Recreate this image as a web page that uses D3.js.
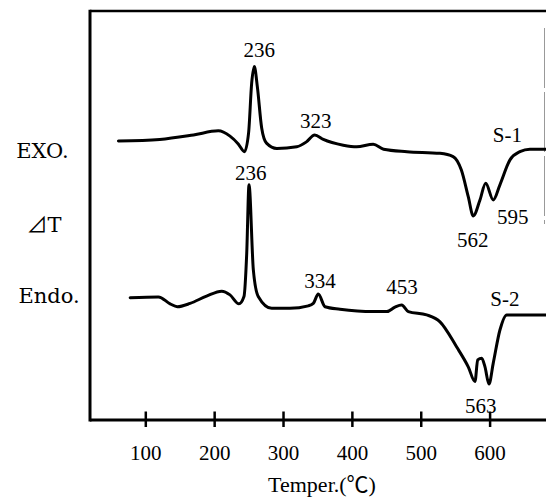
<!DOCTYPE html>
<html>
<head>
<meta charset="utf-8">
<script src="https://cdn.jsdelivr.net/npm/d3@7"></script>
<style>
  html, body { margin: 0; padding: 0; background: #fff; }
  svg { display: block; }
</style>
</head>
<body>
<svg id="chart" width="546" height="499"></svg>
<script>
// ---- data (temperature in °C as read on the axis, ΔT in arbitrary units 0..100) ----
const s1Temp = [61, 121, 170, 206, 223, 235, 244, 250, 254.5, 258.3, 262.7, 269, 276, 291, 320, 334, 346, 358.5, 387.5, 407, 431, 446, 480, 528, 547, 559, 569, 576.3, 586, 594.3, 605.3, 615, 629.6, 644, 658.6, 682];
const s1Val  = [68.2, 68.6, 69.7, 70.7, 69.4, 67.5, 65.6, 70.2, 82.4, 86.4, 81.5, 71.4, 67.7, 66.4, 66.8, 68.0, 69.7, 68.6, 67.2, 66.8, 67.4, 66.2, 65.6, 65.2, 64.4, 61.1, 54.6, 49.9, 53.8, 57.9, 53.8, 57.5, 63.6, 65.6, 66.2, 66.2];

const s2Temp = [78, 119, 136, 146.5, 165, 189, 211, 223, 236, 243.3, 247.3, 250.6, 256.9, 264, 283.6, 310, 336.7, 344, 351.2, 361, 382.7, 431, 450.6, 462.6, 472.3, 482, 508.6, 528, 552, 569, 578.8, 582.7, 588.5, 593.3, 599.1, 605.3, 615, 624.8, 649, 682];
const s2Val  = [29.9, 30.1, 28.4, 27.7, 28.5, 30.3, 31.5, 30.6, 28.4, 30.2, 40.8, 57.5, 36.7, 30.2, 27.3, 27.3, 27.9, 28.5, 30.8, 27.7, 27.1, 26.5, 26.5, 27.6, 28.1, 26.5, 25.7, 24.0, 17.9, 13.0, 9.4, 14.7, 15.1, 13.0, 8.8, 13.9, 22.0, 25.7, 25.7, 25.7];

const xTicks = [100, 200, 300, 400, 500, 600];

// peak annotations (text, temperature, ΔT)
const annText = ["236", "323", "S-1", "562", "595", "236", "334", "453", "S-2", "563"];
const annTemp = [265.6, 347.5, 625.7, 575.4, 633.5, 253.1, 353.7, 472.8, 622.3, 587];
const annVal  = [90.5, 73.3, 69.7, 44.0, 49.6, 60.5, 34.0, 32.6, 29.6, 3.4];

const sideLabels = ["EXO.", "\u22BFT", "Endo."];
const xTitle = "Temper.(\u2103)";

// ---- drawing ----
const svg = d3.select("#chart");
const W = 546, H = 499;
const mLeft = 90, mTop = 11, mBottom = 420;

const x = d3.scaleLinear().domain([100, 600]).range([145.3, 489.6]);
const y = d3.scaleLinear().domain([0, 100]).range([mBottom, mTop]);

const numFont = "'Liberation Serif', 'Noto Sans CJK JP', serif";

// frame
svg.append("line").attr("x1", mLeft).attr("x2", W).attr("y1", mTop).attr("y2", mTop)
  .attr("stroke", "#000").attr("stroke-width", 2.5);
svg.append("line").attr("x1", mLeft).attr("x2", mLeft).attr("y1", mTop - 1.2).attr("y2", mBottom + 1.5)
  .attr("stroke", "#000").attr("stroke-width", 3);
svg.append("line").attr("x1", 544.5).attr("x2", 544.5).attr("y1", 28).attr("y2", 224)
  .attr("stroke", "#999").attr("stroke-width", 1).attr("stroke-dasharray", "60,4");

// x axis
const xAxis = d3.axisBottom(x).tickValues(xTicks).tickSize(0).tickPadding(0);
const gx = svg.append("g").attr("transform", `translate(0,${mBottom})`).call(xAxis);
gx.select(".domain").remove();
gx.append("line").attr("x1", mLeft).attr("x2", W).attr("y1", 0).attr("y2", 0)
  .attr("stroke", "#000").attr("stroke-width", 3);
gx.selectAll(".tick line").remove();
gx.selectAll(".tick").append("line").attr("y1", -8.5).attr("y2", 7)
  .attr("stroke", "#000").attr("stroke-width", 2.5);
gx.selectAll(".tick text")
  .attr("y", 40).attr("dy", null)
  .attr("fill", "#000")
  .style("font-family", numFont).style("font-size", "21px");

svg.append("text").attr("x", 322).attr("y", 492)
  .attr("text-anchor", "middle")
  .style("font-family", numFont).style("font-size", "22px")
  .text(xTitle);

// curves
const line = d3.line().x(d => x(d[0])).y(d => y(d[1])).curve(d3.curveMonotoneX);
const s1 = s1Temp.map((t, i) => [t, s1Val[i]]);
const s2 = s2Temp.map((t, i) => [t, s2Val[i]]);
[s1, s2].forEach(data => {
  svg.append("path").datum(data).attr("d", line)
    .attr("fill", "none").attr("stroke", "#000")
    .attr("stroke-width", 3).attr("stroke-linejoin", "round").attr("stroke-linecap", "round");
});

// annotations
svg.selectAll("text.ann").data(annText).enter().append("text")
  .attr("class", "ann")
  .attr("x", (d, i) => x(annTemp[i]))
  .attr("y", (d, i) => y(annVal[i]))
  .attr("dy", "0.35em")
  .attr("text-anchor", "middle")
  .style("font-family", numFont).style("font-size", "21px")
  .text(d => d);

// side labels
const sideY = [150, 224, 295];
const sideX = [42.5, 44, 49];
svg.selectAll("text.side").data(sideLabels).enter().append("text")
  .attr("class", "side")
  .attr("x", (d, i) => sideX[i])
  .attr("y", (d, i) => sideY[i])
  .attr("dy", "0.36em")
  .attr("text-anchor", "middle")
  .style("font-family", "'DejaVu Serif', 'Noto Sans CJK JP', serif").style("font-size", "21px")
  .text(d => d);
</script>
</body>
</html>
